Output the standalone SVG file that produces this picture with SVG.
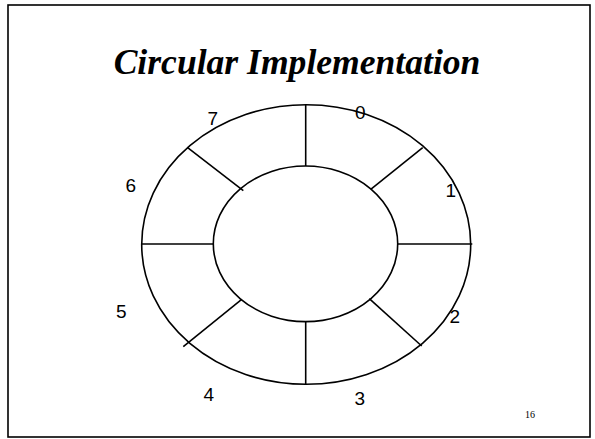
<svg xmlns="http://www.w3.org/2000/svg" width="595" height="439" viewBox="0 0 595 439">
<style>
.ln{stroke:#000;stroke-width:1.6;fill:none}
.lbl{font-family:"Liberation Sans",Arial,sans-serif;font-size:19px;fill:#000}
.title{font-family:"Liberation Serif","Times New Roman",serif;font-size:35.6px;font-weight:bold;font-style:italic;fill:#000}
.pg{font-family:"Liberation Serif","Times New Roman",serif;font-size:10px;fill:#000}
</style>
<rect x="8" y="5" width="582" height="432" fill="#fff" stroke="#000" stroke-width="1.6"/>
<text class="title" x="297" y="74" text-anchor="middle">Circular Implementation</text>
<g id="ring">
<ellipse class="ln" cx="306.2" cy="244.5" rx="164.5" ry="139.8"/>
<ellipse class="ln" cx="305.5" cy="243.8" rx="92.2" ry="77.8"/>
</g>
<g id="connectors">
<line class="ln" x1="305.7" y1="104.7" x2="305.7" y2="166"/>
<line class="ln" x1="370.7" y1="189.3" x2="422.7" y2="147.7"/>
<line class="ln" x1="397.7" y1="244" x2="472.3" y2="244"/>
<line class="ln" x1="369.3" y1="298.7" x2="421.7" y2="346"/>
<line class="ln" x1="305.7" y1="321.7" x2="305.7" y2="384.3"/>
<line class="ln" x1="241.7" y1="299.3" x2="183.3" y2="346.7"/>
<line class="ln" x1="141.7" y1="244" x2="213.3" y2="244"/>
<line class="ln" x1="187.3" y1="147.3" x2="243.3" y2="190.7"/>
</g>
<g id="labels">
<text class="lbl" x="355" y="119">0</text>
<text class="lbl" x="445.5" y="196.7">1</text>
<text class="lbl" x="449.5" y="322.7">2</text>
<text class="lbl" x="354.5" y="405">3</text>
<text class="lbl" x="203.5" y="401">4</text>
<text class="lbl" x="116" y="318.3">5</text>
<text class="lbl" x="125.5" y="191.5">6</text>
<text class="lbl" x="207.5" y="125">7</text>
</g>
<text class="pg" x="525" y="417.5">16</text>
</svg>
